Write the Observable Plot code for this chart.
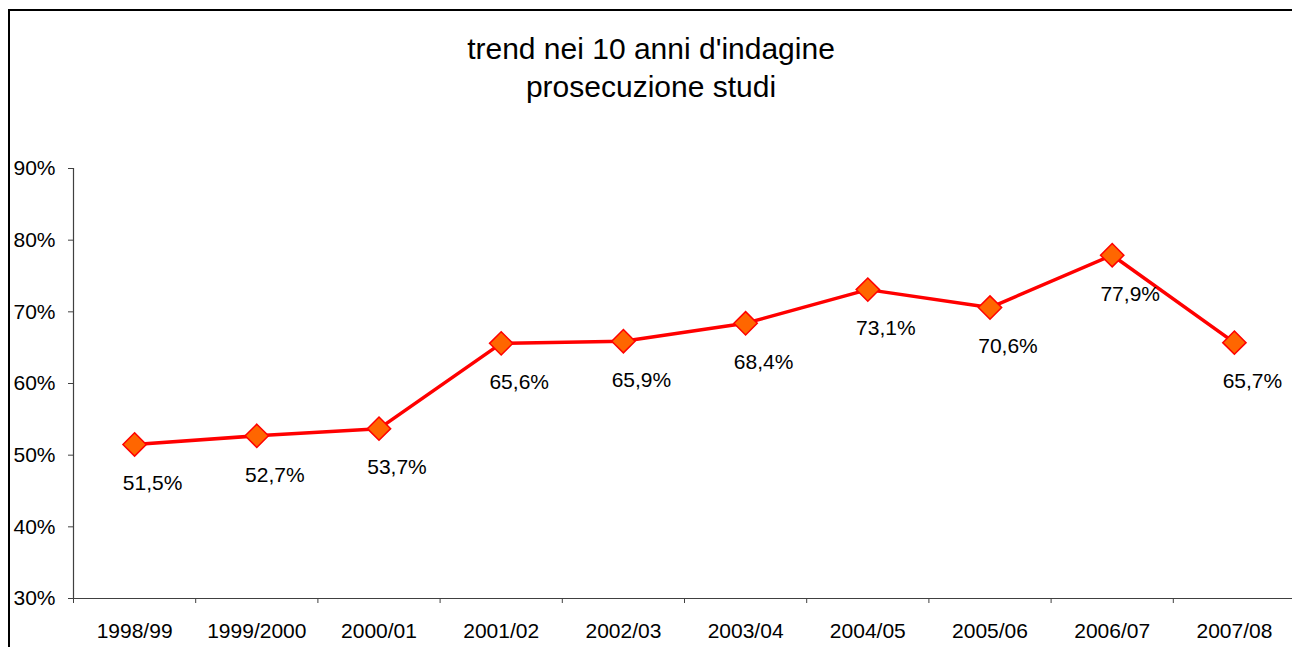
<!DOCTYPE html>
<html>
<head>
<meta charset="utf-8">
<script src="https://cdn.jsdelivr.net/npm/d3@7"></script>
<script src="https://cdn.jsdelivr.net/npm/@observablehq/plot@0.6"></script>
<style>
  html, body { margin: 0; padding: 0; background: #fff; }
  #wrap { position: relative; width: 1292px; height: 647px; overflow: hidden; font-family: "Liberation Sans", Arial, sans-serif; }
  #frame { position: absolute; left: 8px; top: 9px; width: 1400px; height: 800px; border-left: 2px solid #000; border-top: 2px solid #000; }
  #title { position: absolute; left: 0; top: 30px; width: 1302px; text-align: center; font-size: 30px; line-height: 38px; color: #000; }
  #chart { position: absolute; left: 0; top: 0; }
</style>
</head>
<body>
<div id="wrap">
  <div id="frame"></div>
  <div id="chart"></div>
  <div id="title">trend nei 10 anni d'indagine<br>prosecuzione studi</div>
</div>
<script>
const categories = ["1998/99", "1999/2000", "2000/01", "2001/02", "2002/03", "2003/04", "2004/05", "2005/06", "2006/07", "2007/08"];
const values = [51.5, 52.7, 53.7, 65.6, 65.9, 68.4, 73.1, 70.6, 77.9, 65.7];
const yTicks = [30, 40, 50, 60, 70, 80, 90];

const data = categories.map((c, i) => ({ cat: c, x: i + 0.5, v: values[i] }));
const axisColor = "#404040";

const chart = Plot.plot({
  width: 1292,
  height: 647,
  marginTop: 168,
  marginBottom: 49,
  marginLeft: 73,
  marginRight: 0,
  x: { type: "linear", domain: [0, categories.length], range: [73, 1295], label: null },
  y: { domain: [30, 90], range: [598, 168], label: null },
  style: { fontFamily: "'Liberation Sans', Arial, sans-serif", fontSize: "21px", color: "#000", background: "transparent", overflow: "visible" },
  marks: [
    Plot.ruleX([0], { y1: 30, y2: 90, stroke: axisColor, strokeWidth: 1.2 }),
    Plot.ruleY([30], { x1: 0, x2: categories.length, stroke: axisColor, strokeWidth: 1.2 }),
    Plot.axisY({ ticks: yTicks, tickFormat: d => d + "%", tickSize: 5, tickPadding: 13, fontSize: 21, stroke: axisColor, label: null }),
    Plot.axisX({ ticks: d3.range(0, categories.length + 1), tickFormat: () => "", tickSize: 5, stroke: axisColor, label: null }),
    Plot.axisX({ ticks: data.map(d => d.x), tickFormat: d => categories[Math.floor(d)], tickSize: 0, tickPadding: 25, fontSize: 21, label: null }),
    Plot.line(data, { x: "x", y: "v", stroke: "#FF0000", strokeWidth: 3.5 }),
    Plot.dot(data, { x: "x", y: "v", symbol: "diamond2", r: 10.5, fill: "#FF6600", stroke: "#FF0000", strokeWidth: 1.5 }),
    Plot.text(data, { x: "x", y: "v", text: d => d.v.toFixed(1).replace(".", ",") + "%", dx: 18, dy: 39, fontSize: 21, fill: "#000" })
  ]
});
document.getElementById("chart").appendChild(chart);
</script>
</body>
</html>
